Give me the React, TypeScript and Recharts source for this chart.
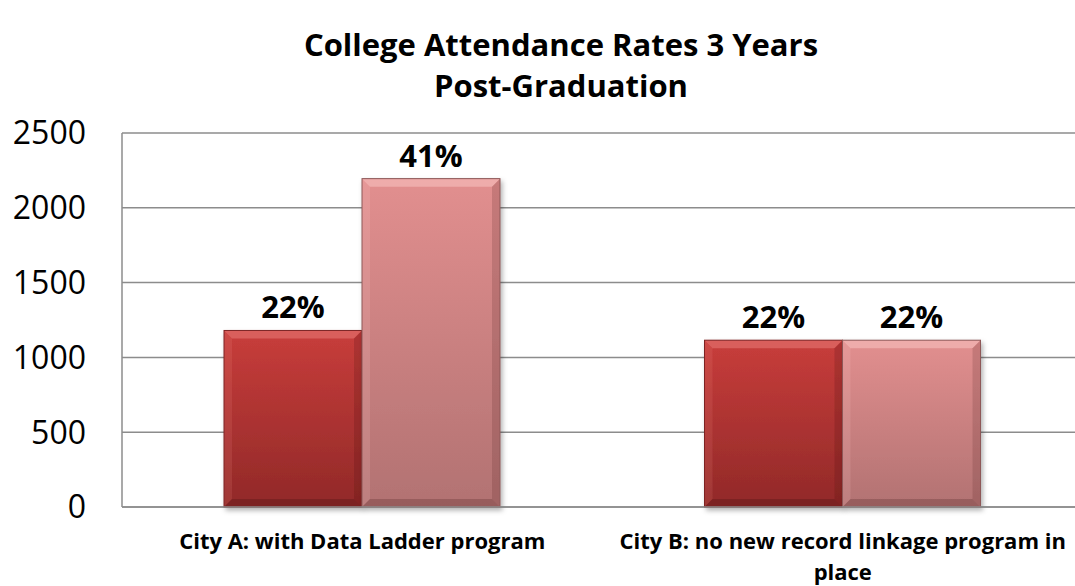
import React from 'react';
import { BarChart, Bar, XAxis, YAxis, CartesianGrid, LabelList } from 'recharts';

const categories = ['City A: with Data Ladder program', 'City B: no new record linkage program in place'];
const series1Values = [1180, 1115];
const series2Values = [2195, 1115];
const series1Labels = ['22%', '22%'];
const series2Labels = ['41%', '22%'];
const yTicks = [0, 500, 1000, 1500, 2000, 2500];
const titleLines = ['College Attendance Rates 3 Years', 'Post-Graduation'];

const data = categories.map((c, i) => ({
  category: c,
  s1: series1Values[i],
  s2: series2Values[i],
  l1: series1Labels[i],
  l2: series2Labels[i],
}));

const FONT = '"Open Sans", "Liberation Sans", sans-serif';
const GRID = '#8c8c8c';

let measureCtx: CanvasRenderingContext2D | null = null;
function measure(text: string, font: string): number {
  if (!measureCtx) {
    const c = document.createElement('canvas');
    measureCtx = c.getContext('2d');
  }
  if (!measureCtx) return text.length * 10;
  measureCtx.font = font;
  return measureCtx.measureText(text).width;
}

function wrap(text: string, maxWidth: number, font: string): string[] {
  const words = text.split(' ');
  const lines: string[] = [];
  let cur = '';
  for (const w of words) {
    const t = cur ? cur + ' ' + w : w;
    if (cur && measure(t, font) > maxWidth) {
      lines.push(cur);
      cur = w;
    } else cur = t;
  }
  if (cur) lines.push(cur);
  return lines;
}

const CategoryTick = (props: any) => {
  const { x, y, payload } = props;
  const font = `bold 22px ${FONT}`;
  const lines = wrap(String(payload.value), 465, font);
  return (
    <g>
      {lines.map((ln, i) => (
        <text
          key={i}
          x={x}
          y={y + 42 + i * 31}
          textAnchor="middle"
          fontFamily={FONT}
          fontWeight="bold"
          fontSize={22}
          fill="#000"
        >
          {ln}
        </text>
      ))}
    </g>
  );
};

const BevelBar = (props: any) => {
  const { x, y, width, height, gradId, light, dark, edge } = props;
  if (!width || !height || height <= 0) return null;
  const b = Math.min(8, width / 4, height / 4);
  const w = width;
  const h = height;
  return (
    <g filter="url(#barShadow)">
      <rect x={x} y={y} width={w} height={h} fill={`url(#${gradId})`} />
      <polygon
        points={`${x},${y} ${x + w},${y} ${x + w - b},${y + b} ${x + b},${y + b}`}
        fill={light}
        opacity={0.45}
      />
      <polygon
        points={`${x},${y} ${x + b},${y + b} ${x + b},${y + h - b} ${x},${y + h}`}
        fill={light}
        opacity={0.15}
      />
      <polygon
        points={`${x + w},${y} ${x + w},${y + h} ${x + w - b},${y + h - b} ${x + w - b},${y + b}`}
        fill={dark}
        opacity={0.2}
      />
      <polygon
        points={`${x},${y + h} ${x + b},${y + h - b} ${x + w - b},${y + h - b} ${x + w},${y + h}`}
        fill={dark}
        opacity={0.3}
      />
      <rect x={x} y={y} width={w} height={h} fill="none" stroke={edge} strokeWidth={1} />
    </g>
  );
};

export default function App() {
  return (
    <div
      style={{
        position: 'absolute',
        left: 0,
        top: 0,
        width: 1075,
        height: 586,
        overflow: 'hidden',
        background: '#fff',
      }}
    >
      <svg width={0} height={0} style={{ position: 'absolute' }}>
        <defs>
          <linearGradient id="grad1" x1="0" y1="0" x2="0" y2="1">
            <stop offset="0%" stopColor="#c83d3b" />
            <stop offset="100%" stopColor="#912928" />
          </linearGradient>
          <linearGradient id="grad2" x1="0" y1="0" x2="0" y2="1">
            <stop offset="0%" stopColor="#e28f8f" />
            <stop offset="100%" stopColor="#b27272" />
          </linearGradient>
          <filter id="barShadow" x="-10%" y="-10%" width="125%" height="125%">
            <feDropShadow dx="2" dy="3" stdDeviation="2.5" floodColor="#000" floodOpacity="0.3" />
          </filter>
        </defs>
      </svg>
      <BarChart
        width={1100}
        height={586}
        data={data}
        margin={{ top: 133, right: 17, left: 0, bottom: 0 }}
        barGap={0}
        style={{ position: 'absolute', left: 0, top: 0 }}
      >
        <CartesianGrid vertical={false} stroke={GRID} strokeWidth={1.5} />
        <XAxis
          dataKey="category"
          height={79}
          interval={0}
          tickLine={false}
          axisLine={{ stroke: GRID, strokeWidth: 1.5 }}
          tick={<CategoryTick />}
          tickSize={0}
          tickMargin={0}
        />
        <YAxis
          width={122}
          domain={[0, 2500]}
          ticks={yTicks}
          interval={0}
          tickLine={false}
          tickSize={0}
          tickMargin={36}
          axisLine={{ stroke: GRID, strokeWidth: 1.5 }}
          tick={{ fill: '#000', fontSize: 32, fontFamily: FONT }}
        />
        <Bar
          dataKey="s1"
          name="Series 1"
          barSize={138}
          isAnimationActive={false}
          shape={(p: any) => (
            <BevelBar {...p} gradId="grad1" light="#f08a86" dark="#4a1010" edge="#7d2424" />
          )}
        >
          <LabelList
            dataKey="l1"
            position="top"
            offset={12}
            fill="#000"
            fontSize={31}
            fontWeight="bold"
            fontFamily={FONT}
          />
        </Bar>
        <Bar
          dataKey="s2"
          name="Series 2"
          barSize={138}
          isAnimationActive={false}
          shape={(p: any) => (
            <BevelBar {...p} gradId="grad2" light="#ffd0cf" dark="#5a2a2a" edge="#8e5858" />
          )}
        >
          <LabelList
            dataKey="l2"
            position="top"
            offset={12}
            fill="#000"
            fontSize={31}
            fontWeight="bold"
            fontFamily={FONT}
          />
        </Bar>
      </BarChart>
      <div
        style={{
          position: 'absolute',
          left: 0,
          top: 24,
          width: 1122,
          textAlign: 'center',
          fontFamily: FONT,
          fontWeight: 'bold',
          fontSize: 31,
          lineHeight: '41px',
          color: '#000',
        }}
      >
        {titleLines.map((t, i) => (
          <div key={i}>{t}</div>
        ))}
      </div>
    </div>
  );
}
